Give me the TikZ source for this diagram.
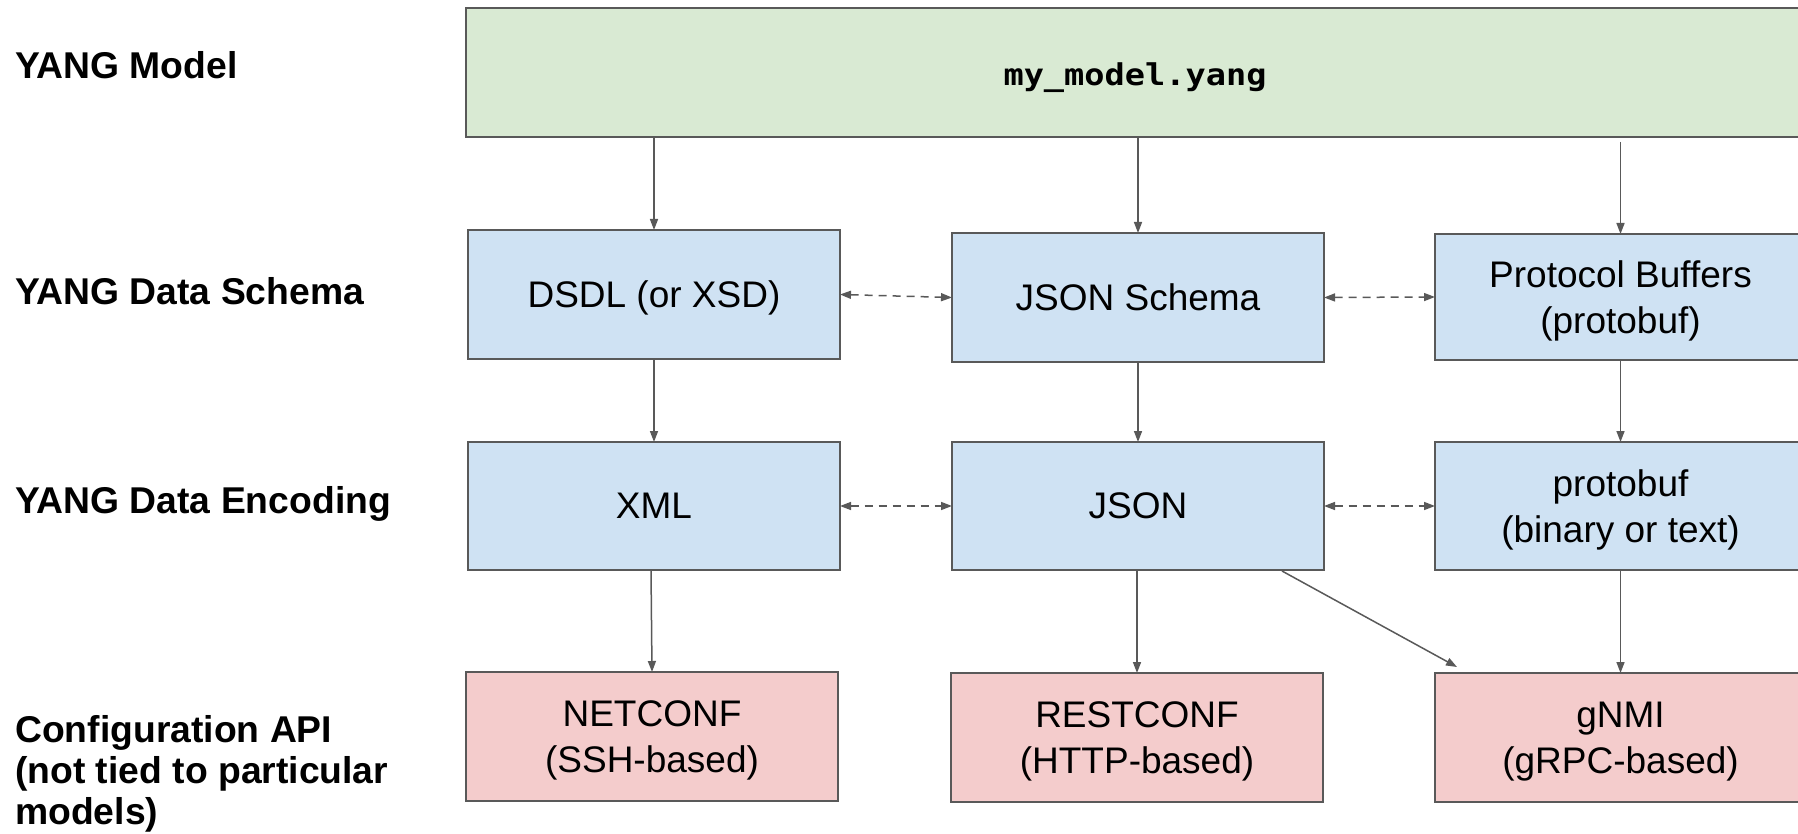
\documentclass[tikz,border=0pt]{standalone}
\usepackage{fontspec}
\setmainfont{Liberation Sans}
\newfontfamily\ymono[FakeStretch=1.12]{DejaVu Sans Mono}
\usetikzlibrary{arrows.meta,calc}
\definecolor{edgegray}{HTML}{595959}
\definecolor{modelgreen}{HTML}{D9EAD3}
\definecolor{schemablue}{HTML}{CFE2F3}
\definecolor{apipink}{HTML}{F4CCCC}
\begin{document}
\begin{tikzpicture}[x=1pt,y=-1pt,
  box/.style={draw=edgegray, line width=2pt, rectangle, minimum width=372pt,
    minimum height=128pt, inner sep=0pt, outer sep=0pt, align=center,
    text depth=0pt, font=\fontsize{37}{46}\selectfont},
  greenbox/.style={box, fill=modelgreen},
  bluebox/.style={box, fill=schemablue},
  pinkbox/.style={box, fill=apipink},
  rowlabel/.style={anchor=base west, align=left, inner sep=0pt,
    font=\fontsize{37.3}{41}\selectfont\bfseries},
  flow/.style={draw=edgegray, line width=1.5pt,
    -{Triangle[length=11pt,width=8pt]}},
  equiv/.style={draw=edgegray, line width=1.5pt, dash pattern=on 8pt off 6pt,
    {Triangle[length=11pt,width=8pt]}-{Triangle[length=11pt,width=8pt]}}
]
\useasboundingbox (0,0) rectangle (1798,834);

% row labels
\node[rowlabel] (lmodel) at (15,79) {YANG Model};
\node[rowlabel] (lschema) at (15,305) {YANG Data Schema};
\node[rowlabel] (lenc) at (15,513) {YANG Data Encoding};
\node[rowlabel] (lapi) at (15,824) {Configuration API\\(not tied to particular\\models)};

% model box
\node[greenbox, minimum width=1340pt, minimum height=129pt] (top) at (1136,72.5) {};
\node[inner sep=0pt, anchor=base, font=\fontsize{30}{34}\selectfont\ymono\bfseries] (fname) at (1135,86) {my\_model.yang};

% schema row
\node[bluebox, minimum height=129pt] (dsdl) at (654,294.5) {DSDL (or XSD)};
\node[bluebox, minimum height=129pt] (jsch) at (1138,297.5) {JSON Schema};
\node[bluebox, minimum width=371pt, minimum height=126pt] (pb) at (1620.5,297) {Protocol Buffers\\(protobuf)};

% encoding row
\node[bluebox] (xml) at (654,506) {XML};
\node[bluebox] (json) at (1138,506) {JSON};
\node[bluebox, minimum width=371pt] (protobuf) at (1620.5,506) {protobuf\\(binary or text)};

% API row
\node[pinkbox, minimum height=129pt] (netconf) at (652,736.5) {NETCONF\\(SSH-based)};
\node[pinkbox, minimum height=129pt] (restconf) at (1137,737.5) {RESTCONF\\(HTTP-based)};
\node[pinkbox, minimum width=371pt, minimum height=129pt] (gnmi) at (1620.5,737.5) {gNMI\\(gRPC-based)};

% model -> schemas
\draw[flow] (dsdl.north |- top.south) -- (dsdl.north);
\draw[flow] (jsch.north |- top.south) -- (jsch.north);
\draw[flow] ($(pb.north |- top.south)+(0,5)$) -- (pb.north);

% schema -> encoding
\draw[flow] (dsdl.south) -- (xml.north);
\draw[flow] (jsch.south) -- (json.north);
\draw[flow] (pb.south) -- (protobuf.north);

% encoding -> API
\draw[flow] ($(xml.south)+(-3,0)$) -- (netconf.north);
\draw[flow] (json.south -| restconf.north) -- (restconf.north);
\draw[flow] (protobuf.south) -- (gnmi.north);
\draw[flow] ($(json.south east)+(-42,1)$) -- ($(gnmi.north west)+(22,-6)$);

% equivalences
\draw[equiv] (dsdl.east) -- (jsch.west);
\draw[equiv] (jsch.east) -- (pb.west);
\draw[equiv] (xml.east) -- (json.west);
\draw[equiv] (json.east) -- (protobuf.west);
\end{tikzpicture}
\end{document}
